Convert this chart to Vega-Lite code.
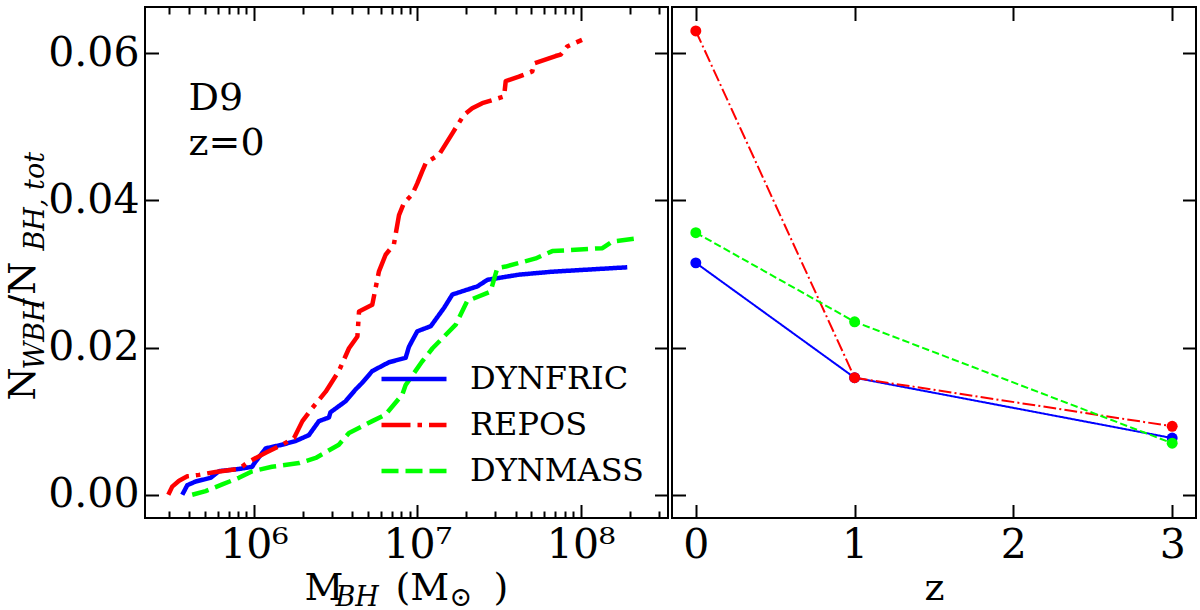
{
  "$schema": "https://vega.github.io/schema/vega-lite/v6.json",
  "padding": {"left": 3, "top": 5, "right": 0, "bottom": 0},
  "background": "white",
  "spacing": 0,
  "datasets": {
    "curves": [
      {"s": "DYNFRIC", "m": 3.64e5, "f": 0.0},
      {"s": "DYNFRIC", "m": 3.91e5, "f": 0.0013},
      {"s": "DYNFRIC", "m": 4.40e5, "f": 0.0018},
      {"s": "DYNFRIC", "m": 5.43e5, "f": 0.0023},
      {"s": "DYNFRIC", "m": 6.11e5, "f": 0.0032},
      {"s": "DYNFRIC", "m": 8.09e5, "f": 0.0035},
      {"s": "DYNFRIC", "m": 9.77e5, "f": 0.0038},
      {"s": "DYNFRIC", "m": 1.00e6, "f": 0.0042},
      {"s": "DYNFRIC", "m": 1.18e6, "f": 0.0063},
      {"s": "DYNFRIC", "m": 1.49e6, "f": 0.0068},
      {"s": "DYNFRIC", "m": 1.80e6, "f": 0.0073},
      {"s": "DYNFRIC", "m": 2.17e6, "f": 0.0081},
      {"s": "DYNFRIC", "m": 2.50e6, "f": 0.0100},
      {"s": "DYNFRIC", "m": 2.88e6, "f": 0.0105},
      {"s": "DYNFRIC", "m": 2.94e6, "f": 0.0112},
      {"s": "DYNFRIC", "m": 3.64e6, "f": 0.0127},
      {"s": "DYNFRIC", "m": 4.19e6, "f": 0.0143},
      {"s": "DYNFRIC", "m": 4.60e6, "f": 0.0152},
      {"s": "DYNFRIC", "m": 5.30e6, "f": 0.0168},
      {"s": "DYNFRIC", "m": 6.71e6, "f": 0.0180},
      {"s": "DYNFRIC", "m": 8.49e6, "f": 0.0186},
      {"s": "DYNFRIC", "m": 8.89e6, "f": 0.0201},
      {"s": "DYNFRIC", "m": 1.00e7, "f": 0.0222},
      {"s": "DYNFRIC", "m": 1.21e7, "f": 0.0229},
      {"s": "DYNFRIC", "m": 1.46e7, "f": 0.0254},
      {"s": "DYNFRIC", "m": 1.64e7, "f": 0.0272},
      {"s": "DYNFRIC", "m": 2.33e7, "f": 0.0283},
      {"s": "DYNFRIC", "m": 2.69e7, "f": 0.0292},
      {"s": "DYNFRIC", "m": 4.19e7, "f": 0.0299},
      {"s": "DYNFRIC", "m": 6.71e7, "f": 0.0303},
      {"s": "DYNFRIC", "m": 1.93e8, "f": 0.0309},
      {"s": "REPOS", "m": 2.99e5, "f": 0.0},
      {"s": "REPOS", "m": 3.16e5, "f": 0.0011},
      {"s": "REPOS", "m": 3.48e5, "f": 0.0019},
      {"s": "REPOS", "m": 3.91e5, "f": 0.0025},
      {"s": "REPOS", "m": 4.60e5, "f": 0.0027},
      {"s": "REPOS", "m": 5.82e5, "f": 0.0031},
      {"s": "REPOS", "m": 8.09e5, "f": 0.0035},
      {"s": "REPOS", "m": 9.31e5, "f": 0.0045},
      {"s": "REPOS", "m": 1.18e6, "f": 0.0057},
      {"s": "REPOS", "m": 1.49e6, "f": 0.0068},
      {"s": "REPOS", "m": 1.76e6, "f": 0.0077},
      {"s": "REPOS", "m": 1.98e6, "f": 0.0100},
      {"s": "REPOS", "m": 2.28e6, "f": 0.0118},
      {"s": "REPOS", "m": 2.75e6, "f": 0.0140},
      {"s": "REPOS", "m": 3.31e6, "f": 0.0168},
      {"s": "REPOS", "m": 3.82e6, "f": 0.0199},
      {"s": "REPOS", "m": 4.30e6, "f": 0.0215},
      {"s": "REPOS", "m": 4.40e6, "f": 0.0249},
      {"s": "REPOS", "m": 5.30e6, "f": 0.0258},
      {"s": "REPOS", "m": 5.56e6, "f": 0.0281},
      {"s": "REPOS", "m": 5.82e6, "f": 0.0303},
      {"s": "REPOS", "m": 6.40e6, "f": 0.0326},
      {"s": "REPOS", "m": 7.19e6, "f": 0.0340},
      {"s": "REPOS", "m": 7.73e6, "f": 0.0380},
      {"s": "REPOS", "m": 8.28e6, "f": 0.0396},
      {"s": "REPOS", "m": 9.31e6, "f": 0.0408},
      {"s": "REPOS", "m": 1.00e7, "f": 0.0423},
      {"s": "REPOS", "m": 1.07e7, "f": 0.0439},
      {"s": "REPOS", "m": 1.13e7, "f": 0.0451},
      {"s": "REPOS", "m": 1.36e7, "f": 0.0462},
      {"s": "REPOS", "m": 1.64e7, "f": 0.0491},
      {"s": "REPOS", "m": 1.93e7, "f": 0.0516},
      {"s": "REPOS", "m": 2.17e7, "f": 0.0525},
      {"s": "REPOS", "m": 2.50e7, "f": 0.0532},
      {"s": "REPOS", "m": 3.40e7, "f": 0.0541},
      {"s": "REPOS", "m": 3.48e7, "f": 0.0562},
      {"s": "REPOS", "m": 4.19e7, "f": 0.0568},
      {"s": "REPOS", "m": 5.06e7, "f": 0.0575},
      {"s": "REPOS", "m": 5.19e7, "f": 0.0586},
      {"s": "REPOS", "m": 7.03e7, "f": 0.0596},
      {"s": "REPOS", "m": 7.55e7, "f": 0.0598},
      {"s": "REPOS", "m": 8.28e7, "f": 0.0609},
      {"s": "REPOS", "m": 1.02e8, "f": 0.0618},
      {"s": "DYNMASS", "m": 4.19e5, "f": 0.0},
      {"s": "DYNMASS", "m": 5.06e5, "f": 0.0005},
      {"s": "DYNMASS", "m": 6.40e5, "f": 0.0014},
      {"s": "DYNMASS", "m": 8.09e5, "f": 0.0023},
      {"s": "DYNMASS", "m": 9.77e5, "f": 0.0032},
      {"s": "DYNMASS", "m": 1.29e6, "f": 0.0038},
      {"s": "DYNMASS", "m": 1.89e6, "f": 0.0043},
      {"s": "DYNMASS", "m": 2.39e6, "f": 0.0050},
      {"s": "DYNMASS", "m": 3.31e6, "f": 0.0068},
      {"s": "DYNMASS", "m": 3.82e6, "f": 0.0084},
      {"s": "DYNMASS", "m": 5.30e6, "f": 0.0100},
      {"s": "DYNMASS", "m": 6.40e6, "f": 0.0109},
      {"s": "DYNMASS", "m": 8.09e6, "f": 0.0136},
      {"s": "DYNMASS", "m": 8.49e6, "f": 0.0149},
      {"s": "DYNMASS", "m": 1.07e7, "f": 0.0181},
      {"s": "DYNMASS", "m": 1.24e7, "f": 0.0199},
      {"s": "DYNMASS", "m": 1.72e7, "f": 0.0231},
      {"s": "DYNMASS", "m": 2.02e7, "f": 0.0263},
      {"s": "DYNMASS", "m": 2.81e7, "f": 0.0276},
      {"s": "DYNMASS", "m": 3.09e7, "f": 0.0308},
      {"s": "DYNMASS", "m": 3.48e7, "f": 0.0310},
      {"s": "DYNMASS", "m": 5.31e7, "f": 0.0321},
      {"s": "DYNMASS", "m": 6.71e7, "f": 0.0331},
      {"s": "DYNMASS", "m": 1.36e8, "f": 0.0335},
      {"s": "DYNMASS", "m": 1.56e8, "f": 0.0344},
      {"s": "DYNMASS", "m": 2.33e8, "f": 0.0349}
    ],
    "evol": [
      {"s": "DYNFRIC", "z": 0, "f": 0.0315},
      {"s": "DYNFRIC", "z": 1, "f": 0.0159},
      {"s": "DYNFRIC", "z": 3, "f": 0.0077},
      {"s": "REPOS", "z": 0, "f": 0.0630},
      {"s": "REPOS", "z": 1, "f": 0.0159},
      {"s": "REPOS", "z": 3, "f": 0.0093},
      {"s": "DYNMASS", "z": 0, "f": 0.0356},
      {"s": "DYNMASS", "z": 1, "f": 0.0235},
      {"s": "DYNMASS", "z": 3, "f": 0.0070}
    ],
    "labels": [
      {"t": "D9", "m": 3.98e5, "f": 0.0523},
      {"t": "z=0", "m": 3.98e5, "f": 0.0462}
    ]
  },
  "hconcat": [
    {
      "width": 523,
      "height": 511,
      "layer": [
        {
          "data": {"name": "curves"},
          "transform": [{"filter": "datum.s === 'DYNFRIC'"}],
          "mark": {"type": "line", "strokeWidth": 4.5, "strokeCap": "butt", "strokeJoin": "round"},
          "encoding": {
            "x": {"field": "m", "type": "quantitative",
              "scale": {"type": "log", "domain": [2.153e5, 3.428e8], "nice": false},
              "axis": {"orient": "bottom", "values": [1e6, 1e7, 1e8],
                "labelExpr": "datum.value < 5e6 ? '10⁶' : datum.value < 5e7 ? '10⁷' : '10⁸'",
                "tickSize": -13.5, "labelPadding": 21, "labelFlush": false, "labelOverlap": false,
                "title": "M", "titleX": 159, "titleY": 81, "titleAlign": "left", "titleBaseline": "alphabetic", "titleAngle": 0}},
            "y": {"field": "f", "type": "quantitative",
              "scale": {"domain": [-0.00316, 0.06626], "nice": false, "zero": false},
              "axis": {"orient": "left", "values": [0, 0.02, 0.04, 0.06], "format": ".2f",
                "tickSize": -13.5, "labelPadding": 19.5, "labelFlush": false, "labelOverlap": false,
                "title": "N", "titleX": -111, "titleY": 393, "titleAngle": 270, "titleAlign": "left", "titleBaseline": "alphabetic"}},
            "color": {"field": "s", "type": "nominal",
              "scale": {"domain": ["DYNFRIC", "REPOS", "DYNMASS"], "range": ["#0000ff", "#ff0000", "#00ff00"]},
              "legend": {"title": null, "orient": "none", "legendX": 234, "legendY": 352, "symbolType": "stroke", "symbolSize": 4225, "symbolStrokeWidth": 4.5, "labelFont": "DejaVu Serif", "labelFontSize": 32, "labelColor": "black", "labelOffset": 21, "rowPadding": 6, "clipHeight": 40, "padding": 0, "labelLimit": 400}},
            "strokeDash": {"field": "s", "type": "nominal",
              "scale": {"domain": ["DYNFRIC", "REPOS", "DYNMASS"], "range": [[1, 0], [29, 7, 4.5, 7], [17, 7]]},
              "legend": {"title": null, "orient": "none", "legendX": 234, "legendY": 352, "symbolType": "stroke", "symbolSize": 4225, "symbolStrokeWidth": 4.5, "labelFont": "DejaVu Serif", "labelFontSize": 32, "labelColor": "black", "labelOffset": 21, "rowPadding": 6, "clipHeight": 40, "padding": 0, "labelLimit": 400}}
          }
        },
        {
          "data": {"name": "curves"},
          "transform": [{"filter": "datum.s === 'REPOS'"}],
          "mark": {"type": "line", "strokeWidth": 4.5, "strokeCap": "butt", "strokeJoin": "round"},
          "encoding": {
            "x": {"field": "m", "type": "quantitative",
              "scale": {"type": "log", "domain": [2.153e5, 3.428e8], "nice": false},
              "axis": {"orient": "bottom", "values": [3e5, 4e5, 5e5, 6e5, 7e5, 8e5, 9e5, 2e6, 3e6, 4e6, 5e6, 6e6, 7e6, 8e6, 9e6, 2e7, 3e7, 4e7, 5e7, 6e7, 7e7, 8e7, 9e7, 2e8, 3e8],
                "tickSize": -7, "labels": false,
                "title": "BH", "titleFontStyle": "italic", "titleFontSize": 27, "titleX": 190, "titleY": 87, "titleAlign": "left", "titleBaseline": "alphabetic", "titleAngle": 0}},
            "y": {"field": "f", "type": "quantitative",
              "scale": {"domain": [-0.00316, 0.06626], "nice": false, "zero": false},
              "axis": {"orient": "right", "values": [0, 0.02, 0.04, 0.06], "tickSize": -13.5, "labels": false, "title": null}},
            "color": {"field": "s", "type": "nominal",
              "scale": {"domain": ["DYNFRIC", "REPOS", "DYNMASS"], "range": ["#0000ff", "#ff0000", "#00ff00"]},
              "legend": {"title": null, "orient": "none", "legendX": 234, "legendY": 352, "symbolType": "stroke", "symbolSize": 4225, "symbolStrokeWidth": 4.5, "labelFont": "DejaVu Serif", "labelFontSize": 32, "labelColor": "black", "labelOffset": 21, "rowPadding": 6, "clipHeight": 40, "padding": 0, "labelLimit": 400}},
            "strokeDash": {"field": "s", "type": "nominal",
              "scale": {"domain": ["DYNFRIC", "REPOS", "DYNMASS"], "range": [[1, 0], [29, 7, 4.5, 7], [17, 7]]},
              "legend": {"title": null, "orient": "none", "legendX": 234, "legendY": 352, "symbolType": "stroke", "symbolSize": 4225, "symbolStrokeWidth": 4.5, "labelFont": "DejaVu Serif", "labelFontSize": 32, "labelColor": "black", "labelOffset": 21, "rowPadding": 6, "clipHeight": 40, "padding": 0, "labelLimit": 400}}
          }
        },
        {
          "data": {"name": "curves"},
          "transform": [{"filter": "datum.s === 'DYNMASS'"}],
          "mark": {"type": "line", "strokeWidth": 4.5, "strokeCap": "butt", "strokeJoin": "round"},
          "encoding": {
            "x": {"field": "m", "type": "quantitative",
              "scale": {"type": "log", "domain": [2.153e5, 3.428e8], "nice": false},
              "axis": {"orient": "top", "values": [1e6, 1e7, 1e8], "tickSize": -13.5, "labels": false,
                "title": "(M", "titleX": 250, "titleY": 592, "titleAlign": "left", "titleBaseline": "alphabetic", "titleAngle": 0}},
            "y": {"field": "f", "type": "quantitative",
              "scale": {"domain": [-0.00316, 0.06626], "nice": false, "zero": false},
              "axis": {"orient": "left", "ticks": false, "labels": false,
                "title": "WBH", "titleFontStyle": "italic", "titleFontSize": 27, "titleX": -102, "titleY": 362, "titleAngle": 270, "titleAlign": "left", "titleBaseline": "alphabetic"}},
            "color": {"field": "s", "type": "nominal",
              "scale": {"domain": ["DYNFRIC", "REPOS", "DYNMASS"], "range": ["#0000ff", "#ff0000", "#00ff00"]},
              "legend": {"title": null, "orient": "none", "legendX": 234, "legendY": 352, "symbolType": "stroke", "symbolSize": 4225, "symbolStrokeWidth": 4.5, "labelFont": "DejaVu Serif", "labelFontSize": 32, "labelColor": "black", "labelOffset": 21, "rowPadding": 6, "clipHeight": 40, "padding": 0, "labelLimit": 400}},
            "strokeDash": {"field": "s", "type": "nominal",
              "scale": {"domain": ["DYNFRIC", "REPOS", "DYNMASS"], "range": [[1, 0], [29, 7, 4.5, 7], [17, 7]]},
              "legend": {"title": null, "orient": "none", "legendX": 234, "legendY": 352, "symbolType": "stroke", "symbolSize": 4225, "symbolStrokeWidth": 4.5, "labelFont": "DejaVu Serif", "labelFontSize": 32, "labelColor": "black", "labelOffset": 21, "rowPadding": 6, "clipHeight": 40, "padding": 0, "labelLimit": 400}}
          }
        },
        {
          "data": {"name": "labels"},
          "transform": [{"filter": "datum.t === 'D9'"}],
          "mark": {"type": "text", "align": "left", "baseline": "alphabetic", "font": "DejaVu Serif", "fontSize": 38, "color": "black"},
          "encoding": {
            "x": {"field": "m", "type": "quantitative",
              "scale": {"type": "log", "domain": [2.153e5, 3.428e8], "nice": false},
              "axis": {"orient": "top", "values": [3e5, 4e5, 5e5, 6e5, 7e5, 8e5, 9e5, 2e6, 3e6, 4e6, 5e6, 6e6, 7e6, 8e6, 9e6, 2e7, 3e7, 4e7, 5e7, 6e7, 7e7, 8e7, 9e7, 2e8, 3e8],
                "tickSize": -7, "labels": false,
                "title": "⊙", "titleFontSize": 27, "titleX": 304, "titleY": 598, "titleAlign": "left", "titleBaseline": "alphabetic", "titleAngle": 0}},
            "y": {"field": "f", "type": "quantitative",
              "scale": {"domain": [-0.00316, 0.06626], "nice": false, "zero": false},
              "axis": {"orient": "left", "ticks": false, "labels": false,
                "title": "/N", "titleX": -111, "titleY": 300, "titleAngle": 270, "titleAlign": "left", "titleBaseline": "alphabetic"}},
            "text": {"field": "t"}
          }
        },
        {
          "data": {"name": "labels"},
          "transform": [{"filter": "datum.t === 'z=0'"}],
          "mark": {"type": "text", "align": "left", "baseline": "alphabetic", "font": "DejaVu Serif", "fontSize": 38, "color": "black"},
          "encoding": {
            "x": {"field": "m", "type": "quantitative",
              "scale": {"type": "log", "domain": [2.153e5, 3.428e8], "nice": false},
              "axis": {"orient": "bottom", "ticks": false, "labels": false,
                "title": ")", "titleX": 348, "titleY": 81, "titleAlign": "left", "titleBaseline": "alphabetic", "titleAngle": 0}},
            "y": {"field": "f", "type": "quantitative",
              "scale": {"domain": [-0.00316, 0.06626], "nice": false, "zero": false},
              "axis": {"orient": "left", "ticks": false, "labels": false,
                "title": "BH, tot", "titleFontStyle": "italic", "titleFontSize": 27, "titleX": -102, "titleY": 243, "titleAngle": 270, "titleAlign": "left", "titleBaseline": "alphabetic"}},
            "text": {"field": "t"}
          }
        }
      ],
      "resolve": {"axis": {"x": "independent", "y": "independent"}}
    },
    {
      "width": 524,
      "height": 511,
      "layer": [
        {
          "data": {"name": "evol"},
          "mark": {"type": "line", "strokeWidth": 2, "strokeCap": "butt"},
          "encoding": {
            "x": {"field": "z", "type": "quantitative",
              "scale": {"domain": [-0.15, 3.15], "nice": false, "zero": false},
              "axis": {"orient": "bottom", "values": [0, 1, 2, 3], "format": "d", "tickSize": -13.5, "labelPadding": 21, "labelFlush": false,
                "title": "z", "titleX": 262, "titleY": 81, "titleAlign": "center", "titleBaseline": "alphabetic", "titleAngle": 0}},
            "y": {"field": "f", "type": "quantitative",
              "scale": {"domain": [-0.00316, 0.06626], "nice": false, "zero": false},
              "axis": {"orient": "left", "values": [0, 0.02, 0.04, 0.06], "tickSize": -13.5, "labels": false, "title": null}},
            "color": {"field": "s", "type": "nominal",
              "scale": {"domain": ["DYNFRIC", "REPOS", "DYNMASS"], "range": ["#0000ff", "#ff0000", "#00ff00"]}, "legend": null},
            "strokeDash": {"field": "s", "type": "nominal",
              "scale": {"domain": ["DYNFRIC", "REPOS", "DYNMASS"], "range": [[1, 0], [12.8, 3.2, 2, 3.2], [7.4, 3.2]]}, "legend": null}
          }
        },
        {
          "data": {"name": "evol"},
          "mark": {"type": "point", "filled": true, "size": 120, "opacity": 1, "shape": "circle"},
          "encoding": {
            "x": {"field": "z", "type": "quantitative",
              "scale": {"domain": [-0.15, 3.15], "nice": false, "zero": false},
              "axis": {"orient": "top", "values": [0, 1, 2, 3], "tickSize": -13.5, "labels": false, "title": null}},
            "y": {"field": "f", "type": "quantitative",
              "scale": {"domain": [-0.00316, 0.06626], "nice": false, "zero": false},
              "axis": {"orient": "right", "values": [0, 0.02, 0.04, 0.06], "tickSize": -13.5, "labels": false, "title": null}},
            "color": {"field": "s", "type": "nominal",
              "scale": {"domain": ["DYNFRIC", "REPOS", "DYNMASS"], "range": ["#0000ff", "#ff0000", "#00ff00"]}, "legend": null}
          }
        }
      ],
      "resolve": {"axis": {"x": "independent", "y": "independent"}}
    }
  ],
  "resolve": {"scale": {"color": "independent", "strokeDash": "independent"}, "legend": {"color": "independent", "strokeDash": "independent"}},
  "config": {
    "view": {"stroke": "black", "strokeWidth": 2},
    "axis": {"domain": false, "grid": false, "tickColor": "black", "tickWidth": 2,
      "labelFont": "DejaVu Serif", "labelFontSize": 41, "labelColor": "black",
      "titleFont": "DejaVu Serif", "titleFontSize": 38, "titleFontWeight": "normal", "titleColor": "black"},
    "text": {"font": "DejaVu Serif"}
  }
}
